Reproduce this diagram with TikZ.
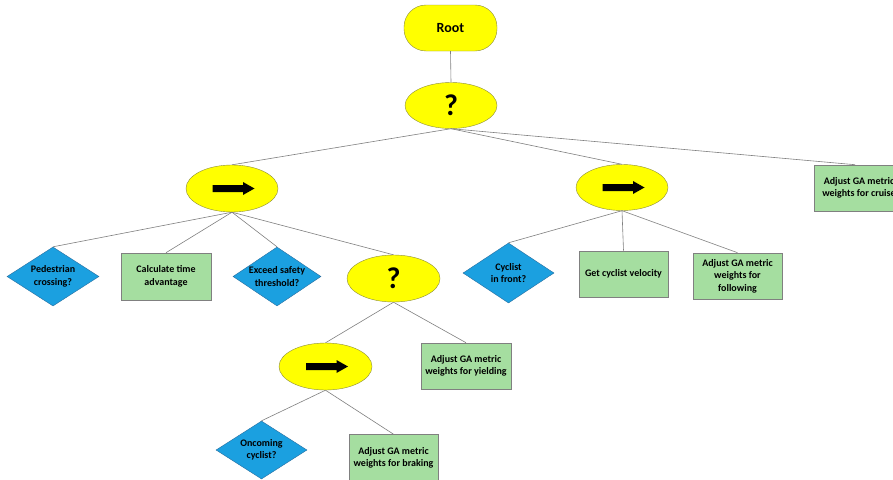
\documentclass[tikz,border=0pt]{standalone}
\usepackage{fontspec}
\setmainfont{Carlito}
\usetikzlibrary{shapes.geometric}
\definecolor{yel}{RGB}{255,255,0}
\definecolor{yelline}{RGB}{140,140,60}
\definecolor{dblue}{RGB}{27,160,224}
\definecolor{dbline}{RGB}{40,110,160}
\definecolor{gfill}{RGB}{165,222,160}
\definecolor{gline}{RGB}{128,128,128}
\definecolor{conn}{RGB}{128,128,128}
\newcommand{\seqarrow}[1]{\fill[black,shift={(#1.center)}] (-19.5,-3.5) -- (11,-3.5) -- (11,-6.5) -- (22.5,0) -- (11,6.5) -- (11,3.5) -- (-19.5,3.5) -- cycle;}
\begin{document}
\begin{tikzpicture}[x=1pt,y=-1pt,
  txt/.style={font=\fontsize{10}{12.5}\selectfont\bfseries, align=center, text=black},
  rootbox/.style={draw=yelline, fill=yel, rounded corners=22pt, minimum width=93pt, minimum height=46pt, inner sep=0pt, font=\fontsize{14}{16}\selectfont\bfseries},
  selnode/.style={ellipse, draw=yelline, fill=yel, minimum width=92pt, minimum height=46pt, inner sep=0pt, font=\fontsize{30}{30}\selectfont\bfseries},
  seqnode/.style={ellipse, draw=yelline, fill=yel, minimum width=92pt, minimum height=46pt, inner sep=0pt},
  condnode/.style={diamond, draw=dbline, line width=0.4pt, fill=dblue, minimum width=91pt, minimum height=59pt, inner sep=0pt},
  lbl/.style={txt},
  actbox/.style={rectangle, draw=gline, line width=0.6pt, fill=gfill, minimum width=90pt, minimum height=46pt, inner sep=0pt, txt},
  edge/.style={draw=conn, line width=0.6pt}
]
\clip (0,0) rectangle (893,479);
\fill[white] (0,0) rectangle (893,479);

\node[rootbox] (root) at (450.5,28) {Root};
\node[selnode] (q1) at (451,105.5) {?};
\node[seqnode, minimum height=47pt] (s1) at (232,188.5) {};
\node[seqnode] (s2) at (622,187.5) {};
\node[actbox] (cruise) at (859,188) {Adjust GA metric\\weights for cruise};

\node[condnode, minimum width=92pt, label={[lbl]center:Pedestrian\\crossing?}] (ped) at (53,276.5) {};
\node[actbox, minimum height=47pt] (calc) at (166,276.5) {Calculate time\\advantage};
\node[condnode, minimum width=88pt, label={[lbl]center:Exceed safety\\threshold?}] (exc) at (277,276.5) {};
\node[selnode, minimum width=93pt, minimum height=47pt] (q2) at (393.5,278.5) {?};

\node[condnode, minimum height=60pt, label={[lbl]center:Cyclist\\in front?}] (cyc) at (508.5,273) {};
\node[actbox, minimum width=89pt] (vel) at (623.5,274) {Get cyclist velocity};
\node[actbox, minimum width=89pt] (fol) at (737.5,276) {Adjust GA metric\\weights for\\following};

\node[seqnode, minimum width=93pt, minimum height=47pt] (s3) at (325.5,366.5) {};
\node[actbox] (yld) at (466,366) {Adjust GA metric\\weights for yielding};

\node[condnode, minimum height=58pt, label={[lbl]center:Oncoming\\cyclist?}] (onc) at (261.5,450) {};
\node[actbox, minimum width=89pt, minimum height=47pt] (brk) at (393.5,458) {Adjust GA metric\\weights for braking};

\seqarrow{s1}
\seqarrow{s2}
\seqarrow{s3}

\path[edge] (root.south) -- (q1.north);
\path[edge] (q1.south) -- (s1.north);
\path[edge] (q1.south) -- (s2.north);
\path[edge] (q1.south) -- ([xshift=-4pt]cruise.north);
\path[edge] (s1.south) -- (ped.north);
\path[edge] (s1.south) -- (calc.north);
\path[edge] (s1.south) -- (exc.north);
\path[edge] (s1.south) -- (q2.north);
\path[edge] (s2.south) -- (cyc.north);
\path[edge] (s2.south) -- (vel.north);
\path[edge] (s2.south) -- (fol.north);
\path[edge] (q2.south) -- (s3.north);
\path[edge] (q2.south) -- (yld.north);
\path[edge] (s3.south) -- (onc.north);
\path[edge] (s3.south) -- (brk.north);
\end{tikzpicture}
\end{document}
